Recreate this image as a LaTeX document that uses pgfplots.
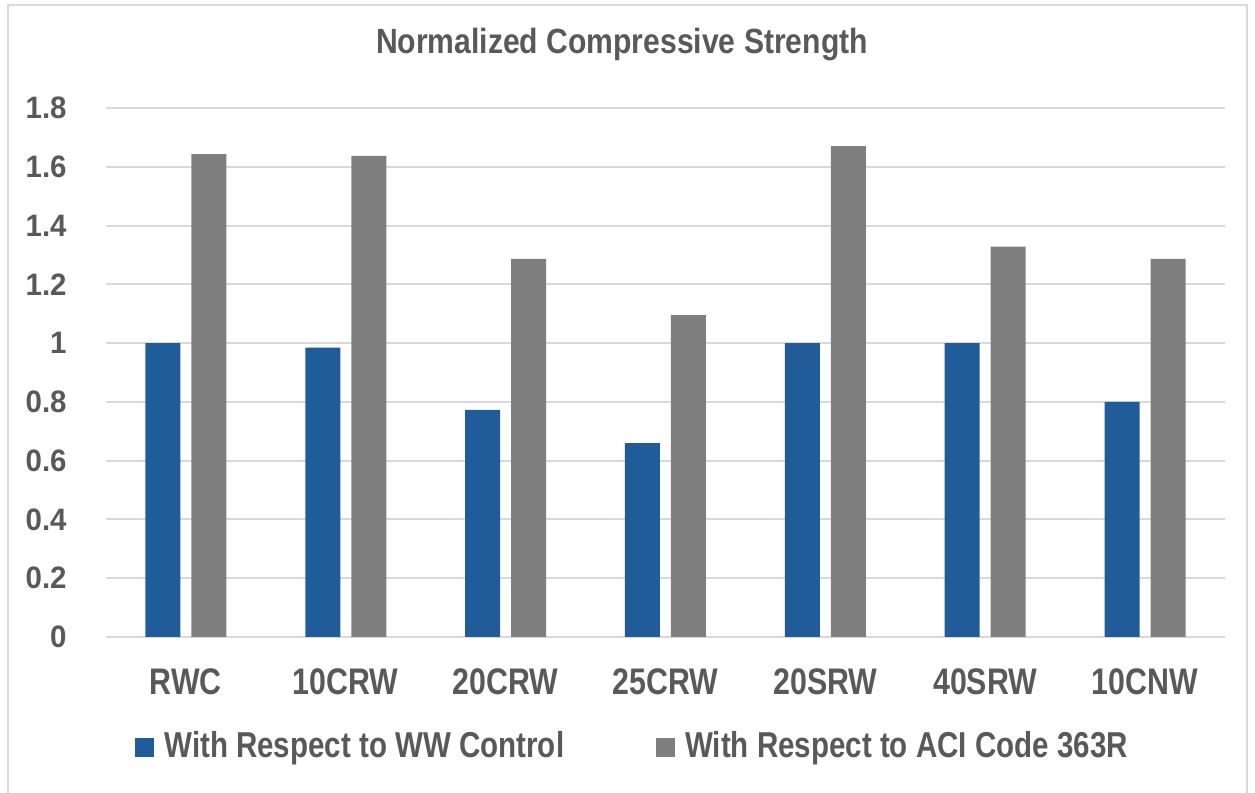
\documentclass[border=0pt]{standalone}
\usepackage{fontspec}
\setmainfont{Liberation Sans}[FakeStretch=0.82]
\newfontfamily\titlefont{Liberation Sans}[FakeStretch=0.86]
\newfontfamily\yfont{Liberation Sans}[FakeStretch=0.95]
\usepackage{pgfplots}
\pgfplotsset{compat=1.18}

\definecolor{barblue}{HTML}{1F5C99}
\definecolor{bargray}{HTML}{7F7F7F}
\definecolor{txt}{HTML}{595959}
\definecolor{gridc}{HTML}{D9D9D9}

\begin{document}
\begin{tikzpicture}
\useasboundingbox (0,0) rectangle (627.5pt,396.5pt);
% chart frame
\draw[gridc, line width=0.8pt] (4pt,0) -- (4pt,394pt) -- (623.5pt,394pt) -- (623.5pt,0);
% chart title
\node[text=txt, font=\titlefont\fontsize{17.5}{19}\selectfont\bfseries, inner sep=0pt]
  at (311pt,374.25pt) {Normalized Compressive Strength};

\begin{axis}[
  at={(53pt,78pt)}, anchor=south west,
  scale only axis, width=559.5pt, height=264.5pt,
  xmin=-0.5, xmax=6.5, ymin=0, ymax=1.8,
  axis line style={draw=none},
  major tick length=0pt,
  ymajorgrids, grid style={gridc, line width=1pt},
  xtick={0,1,2,3,4,5,6},
  xticklabels={RWC,10CRW,20CRW,25CRW,20SRW,40SRW,10CNW},
  ytick={0,0.2,0.4,0.6,0.8,1,1.2,1.4,1.6,1.8},
  yticklabels={0,0.2,0.4,0.6,0.8,1,1.2,1.4,1.6,1.8},
  ticklabel style={text=txt, inner sep=0pt},
  yticklabel style={font=\yfont\fontsize{15.5}{17}\selectfont\bfseries, anchor=east, xshift=-19.5pt},
  xticklabel style={font=\fontsize{18.5}{20}\selectfont\bfseries, anchor=north, yshift=-15.5pt},
  legend columns=2,
  legend style={
    at={(0.0259,-0.206)}, anchor=west,
    draw=none, fill=none, inner sep=0pt,
    font=\fontsize{18}{20}\selectfont\bfseries, text=txt,
    nodes={inner sep=0pt},
    /tikz/every odd column/.append style={column sep=5pt},
    /tikz/every even column/.append style={column sep=46pt},
  },
  legend image code/.code={\fill[#1] (0pt,-5.75pt) rectangle (9.5pt,3.75pt);},
]
\addplot[ybar, bar width=17.5pt, bar shift=-11.5pt, fill=barblue, draw=none]
  coordinates {(0,1.000) (1,0.985) (2,0.773) (3,0.660) (4,1.000) (5,1.000) (6,0.800)};
\addlegendentry{With Respect to WW Control}
\addplot[ybar, bar width=17.5pt, bar shift=11.5pt, fill=bargray, draw=none]
  coordinates {(0,1.643) (1,1.637) (2,1.287) (3,1.095) (4,1.670) (5,1.328) (6,1.287)};
\addlegendentry{With Respect to ACI Code 363R}
\end{axis}
\end{tikzpicture}
\end{document}
